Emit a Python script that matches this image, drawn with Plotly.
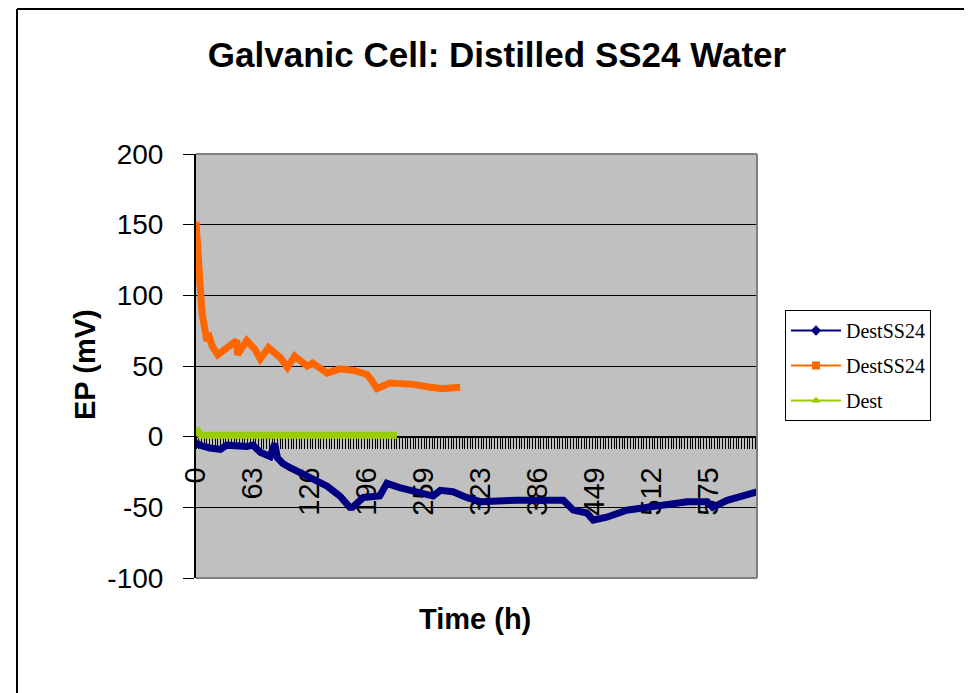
import plotly.graph_objects as go

# category index (one per reading) and potential in mV
blue_idx = [0, 4, 15, 27, 34, 56, 63, 71, 82, 87, 90, 96, 104, 118, 134, 145, 159, 170, 173,
            185, 203, 209, 211, 225, 248, 262, 270, 284, 299, 314, 355, 406, 417, 432, 439,
            454, 476, 498, 520, 543, 565, 571, 587, 598, 609, 620]
blue_mv = [-4, -6, -8, -9, -6, -7, -6, -11, -14, -5, -15, -19, -22, -26, -31, -35, -42, -50, -50,
           -43, -42, -35, -33, -36, -39, -42, -38, -39, -43, -46, -45, -45, -52, -54, -59,
           -57, -52, -50, -48, -46, -46, -50, -45, -43, -40, -39]

orange_idx = [0, 1, 2, 4, 6, 7, 9, 12, 15, 18, 24, 32, 45, 46, 56, 65, 71, 80, 93, 101, 109,
              123, 129, 145, 159, 173, 189, 194, 200, 214, 240, 259, 273, 292]
orange_mv = [152, 139, 124, 104, 93, 86, 75, 68, 70, 64, 58, 62, 68, 58, 68, 62, 55, 63, 56, 49, 57,
             50, 52, 45, 48, 47, 44, 40, 34, 38, 37, 35, 34, 35]

green_idx = [0, 2, 5, 30, 60, 90, 120, 150, 180, 210, 222]
green_mv = [6, 3, 1, 1, 1, 1, 1, 1, 1, 1, 1]

tick_idx = [0, 63, 126, 189, 252, 315, 378, 441, 504, 567]
tick_labels = ["0", "63", "126", "196", "259", "323", "386", "449", "512", "575"]

y_ticks = [-100, -50, 0, 50, 100, 150, 200]
y_labels = ["-100", "-50", "0", "50", "100", "150", "200"]

series = [
    ("DestSS24", blue_idx, blue_mv, "#000080", "diamond"),
    ("DestSS24", orange_idx, orange_mv, "#FF6600", "square"),
    ("Dest", green_idx, green_mv, "#99CC00", "triangle-up"),
]

FONT = "Liberation Sans, Arial, sans-serif"
W, H = 964, 685   # page body has an 8px margin


def px(x):
    # screen x pixel -> paper fraction
    return (x - 196) / 561


def py(y):
    # screen y pixel -> paper fraction
    return (578 - y) / 424


fig = go.Figure()

for name, xs, ys, color, sym in series:
    fig.add_trace(go.Scatter(
        x=xs, y=ys, mode="lines", showlegend=False,
        line=dict(color=color, width=7),
    ))

# legend-only entries (thin line with marker, like the Excel legend)
for i, (name, xs, ys, color, sym) in enumerate(series):
    fig.add_trace(go.Scatter(
        x=[None], y=[None], mode="lines+markers", name=name,
        legendgroup=str(i),
        line=dict(color=color, width=2),
        marker=dict(symbol=sym, size=8, color=color),
    ))

fig.update_xaxes(
    range=[0, 620],
    anchor="free", position=1 / 3,
    showline=True, linecolor="black", linewidth=1,
    showgrid=False, zeroline=False,
    tickmode="array", tickvals=tick_idx, ticktext=tick_labels,
    ticks="outside", ticklen=11, tickcolor="black", tickwidth=1,
    minor=dict(dtick=3, ticks="outside", ticklen=11, tickcolor="black", tickwidth=1, showgrid=False),
    tickangle=-90, tickfont=dict(family=FONT, size=29, color="black"),
    ticklabelstandoff=7,
    layer="below traces",
)

fig.update_yaxes(
    range=[-100, 200],
    tickmode="array", tickvals=y_ticks, ticktext=y_labels,
    showline=True, linecolor="black", linewidth=2,
    showgrid=True, gridcolor="black", gridwidth=1,
    zeroline=False,
    ticks="outside", ticklen=11, tickcolor="black",
    tickfont=dict(family=FONT, size=28, color="black"),
    ticklabelstandoff=14,
)

fig.update_layout(
    width=W, height=H,
    margin=dict(l=188, r=W - 749, t=146, b=H - 570),
    paper_bgcolor="white",
    plot_bgcolor="#C0C0C0",
    title=dict(
        text="<b>Galvanic Cell: Distilled SS24 Water</b>",
        x=(497 - 8) / W, xanchor="center", y=1 - (55 - 8) / H, yanchor="middle",
        font=dict(family=FONT, size=35, color="black"),
    ),
    legend=dict(
        x=px(785), y=py(310), xanchor="left", yanchor="top",
        bgcolor="white", bordercolor="black", borderwidth=1,
        font=dict(family="Liberation Serif, Times New Roman, serif", size=20, color="black"),
        traceorder="grouped", tracegroupgap=6, itemwidth=50,
    ),
    annotations=[
        dict(text="<b>EP (mV)</b>", xref="paper", yref="paper",
             x=px(67), y=py(365), textangle=-90,
             showarrow=False, font=dict(family=FONT, size=29, color="black")),
        dict(text="<b>Time (h)</b>", xref="paper", yref="paper",
             x=px(475), y=py(637),
             showarrow=False, font=dict(family=FONT, size=29, color="black")),
    ],
    shapes=[
        # outer chart frame (left and top edges visible)
        dict(type="line", xref="paper", yref="paper",
             x0=px(17), x1=px(17), y0=-1, y1=py(9),
             line=dict(color="black", width=2)),
        dict(type="line", xref="paper", yref="paper",
             x0=px(17), x1=2, y0=py(9), y1=py(9),
             line=dict(color="black", width=2)),
        # plot area border
        dict(type="line", xref="paper", yref="paper", x0=0, x1=1, y0=1, y1=1,
             line=dict(color="#808080", width=2)),
        dict(type="line", xref="paper", yref="paper", x0=1, x1=1, y0=0, y1=1,
             line=dict(color="#808080", width=2)),
        dict(type="line", xref="paper", yref="paper", x0=0, x1=1, y0=0, y1=0,
             line=dict(color="#808080", width=2)),
    ],
)

fig.write_html("out.html")
